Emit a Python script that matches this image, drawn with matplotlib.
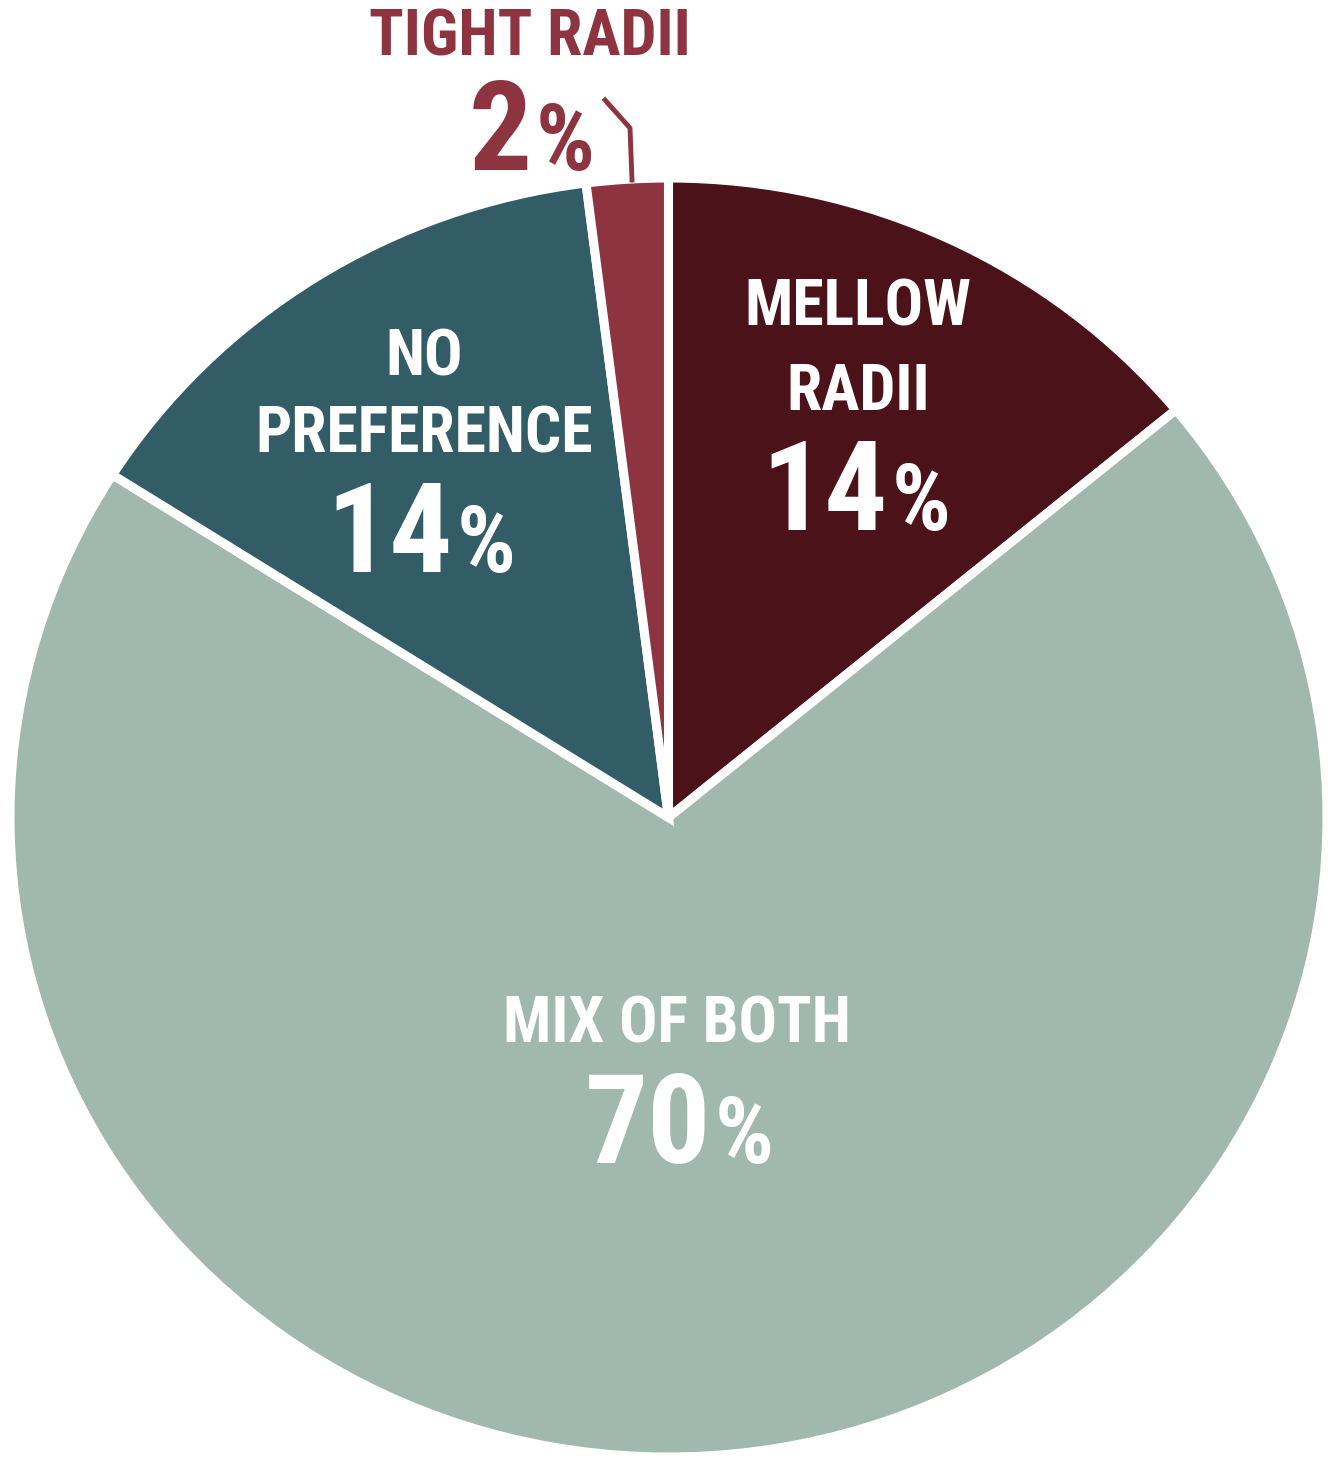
import matplotlib.pyplot as plt
from matplotlib import font_manager

# Data
labels = ['MELLOW\nRADII', 'MIX OF BOTH', 'NO\nPREFERENCE', 'TIGHT RADII']
shares = [14, 70, 14, 2]
colors = ['#4B1219', '#A0B8AE', '#325C66', '#8E3440']

names = {f.name for f in font_manager.fontManager.ttflist}
font = 'Roboto'
for cand in ['Roboto Condensed', 'Liberation Sans Narrow', 'Open Sans Condensed']:
    if cand in names:
        font = cand
        break
plt.rcParams['font.family'] = [font, 'DejaVu Sans']

W, H = 1330, 1458
fig = plt.figure(figsize=(W / 100, H / 100), dpi=100)

# pie occupies x 10..1327, y 178..1457 (pixels from top)
ax = fig.add_axes([10 / W, 1 / H, 1317 / W, 1279 / H])
ax.pie(shares, colors=colors, startangle=90, counterclock=False,
       wedgeprops=dict(edgecolor='white', linewidth=6.5, joinstyle='miter'))
ax.set_aspect('auto')
ax.set_xlim(-1, 1)
ax.set_ylim(-1, 1)
ax.axis('off')


def fx(px):
    return px / W


def fy(py):
    return 1 - py / H


def pct(split, base, val, color, size):
    # number + smaller percent sign sharing a baseline
    fig.text(fx(split - 2), fy(base), str(val), color=color, fontsize=size,
             fontweight='bold', ha='right', va='baseline')
    fig.text(fx(split + 2), fy(base), '%', color=color, fontsize=size * 0.74,
             fontweight='bold', ha='left', va='baseline')


lab = 46
big = 90


def label(x, y, s, color='white'):
    fig.text(fx(x), fy(y), s, color=color, fontsize=lab,
             fontweight='bold', ha='center', va='center')


# Mellow radii
label(858, 308, 'MELLOW')
label(858, 393, 'RADII')
pct(890, 530, shares[0], 'white', big)

# No preference
label(424, 358, 'NO')
label(424, 435, 'PREFERENCE')
pct(455, 572, shares[2], 'white', big)

# Mix of both
label(677, 1025, 'MIX OF BOTH')
pct(713, 1163, shares[1], 'white', big)

# Tight radii (outside)
label(530, 38, 'TIGHT RADII', colors[3])
pct(534, 170, shares[3], colors[3], big)
fig.add_artist(plt.Line2D([fx(605), fx(630), fx(632)], [fy(100), fy(128), fy(180)],
                          transform=fig.transFigure, color=colors[3], linewidth=3.5))

fig.savefig('out.png', dpi=100, facecolor='white')
